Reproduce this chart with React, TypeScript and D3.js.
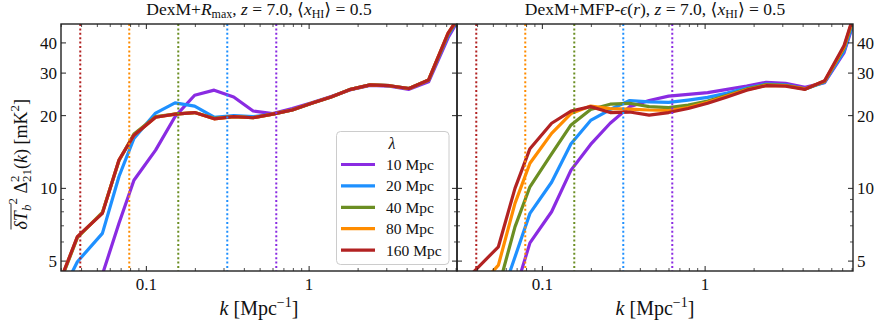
import * as d3 from 'd3'

// k bins [Mpc^-1]
const kBins = [0.030, 0.0377, 0.0537, 0.0679, 0.0839, 0.114, 0.150, 0.198, 0.261, 0.344, 0.453, 0.597, 0.787, 1.036, 1.365, 1.80, 2.37, 3.12, 4.11, 5.42, 7.14, 9.4]

const lambdas = [10, 20, 40, 80, 160]
const seriesLabels = ['10 Mpc', '20 Mpc', '40 Mpc', '80 Mpc', '160 Mpc']
const colors = ['#8a2be2', '#1e90ff', '#6b8e23', '#ff8c00', '#b22222']

// DexM + R_max
const rmax10 = [2.5, 3.3, 4.4, 7.17, 10.8, 14.4, 19.8, 24.3, 25.5, 23.9, 20.9, 20.4, 21.4, 22.6, 24.0, 25.6, 26.7, 26.5, 25.7, 27.6, 42.0, 58]
const rmax20 = [3.65, 4.97, 6.51, 11.2, 16.1, 20.5, 22.6, 21.9, 19.7, 20.0, 19.8, 20.3, 21.1, 22.5, 23.9, 25.7, 26.8, 26.6, 25.9, 28.0, 43.0, 58]
const rmax40 = [4.2, 6.25, 7.95, 13.0, 16.8, 19.8, 20.3, 20.6, 19.5, 19.8, 19.6, 20.3, 21.1, 22.5, 23.9, 25.7, 26.8, 26.6, 25.9, 28.1, 43.5, 58]
const rmax80 = [4.25, 6.3, 7.9, 13.1, 16.6, 19.7, 20.3, 20.6, 19.4, 19.8, 19.6, 20.3, 21.1, 22.5, 23.9, 25.7, 26.8, 26.6, 25.9, 28.1, 43.9, 58]
const rmax160 = [4.25, 6.31, 7.88, 13.1, 16.6, 19.7, 20.3, 20.6, 19.4, 19.8, 19.6, 20.3, 21.1, 22.5, 23.9, 25.7, 26.8, 26.6, 25.9, 28.1, 43.9, 58]

// DexM + MFP-eps(r)
const mfp10 = [1.8, 2.2, 2.8, 3.73, 5.95, 8.0, 11.9, 15.2, 18.6, 21.8, 23.1, 24.1, 24.5, 24.9, 25.7, 26.5, 27.5, 27.2, 26.2, 27.4, 36.5, 65]
const mfp20 = [2.0, 2.5, 3.29, 5.2, 7.88, 10.6, 15.3, 19.1, 21.2, 23.1, 22.8, 22.7, 23.2, 23.8, 24.8, 26.0, 27.0, 26.8, 25.8, 27.5, 37.0, 66]
const mfp40 = [2.3, 2.9, 3.87, 6.93, 10.15, 13.9, 18.3, 21.2, 22.3, 22.5, 21.8, 21.6, 22.1, 23.0, 24.3, 25.8, 26.9, 26.7, 25.8, 27.7, 38.0, 68]
const mfp80 = [2.8, 3.68, 4.81, 8.67, 12.7, 16.9, 20.4, 21.9, 21.4, 21.3, 21.1, 21.0, 21.6, 22.7, 24.1, 25.6, 26.7, 26.6, 25.8, 27.8, 38.5, 70]
const mfp160 = [3.8, 4.5, 5.73, 10.0, 14.6, 18.6, 20.9, 21.8, 20.6, 20.7, 20.1, 20.6, 21.4, 22.5, 23.9, 25.5, 26.6, 26.5, 25.7, 27.9, 39.0, 70]

const yMajor = [5, 10, 20, 30, 40]
const yMinor = [6, 7, 8, 9]
const xMajor = [0.1, 1]
const xMajorLabels = ['0.1', '1']

const W = 877
const H = 323
const top = 24
const bottom = 271
const font = '"Liberation Serif", "DejaVu Serif", serif'
const axisColor = '#222'

const xMinor: number[] = []
;[0.01, 0.1, 1].forEach(d => {
  for (let m = 2; m <= 9; m++) xMinor.push(d * m)
})

function Title({ x, which }: { x: number; which: 'rmax' | 'mfp' }) {
  return (
    <text x={x} y={15} textAnchor="middle" fontSize={17.5} fontFamily={font} fill="#111">
      {which === 'rmax' ? (
        <>
          <tspan>DexM+</tspan>
          <tspan fontStyle="italic">R</tspan>
          <tspan fontSize={12} dy={3}>max</tspan>
          <tspan dy={-3}>, </tspan>
        </>
      ) : (
        <>
          <tspan>DexM+MFP-</tspan>
          <tspan fontStyle="italic">ϵ</tspan>
          <tspan>(</tspan>
          <tspan fontStyle="italic">r</tspan>
          <tspan>), </tspan>
        </>
      )}
      <tspan fontStyle="italic">z</tspan>
      <tspan> = 7.0, ⟨</tspan>
      <tspan fontStyle="italic">x</tspan>
      <tspan fontSize={12} dy={3}>HI</tspan>
      <tspan dy={-3}>⟩ = 0.5</tspan>
    </text>
  )
}

function Panel({ x0, x1, data, which, labelSide, legend }: {
  x0: number; x1: number; data: number[][]; which: 'rmax' | 'mfp'; labelSide: 'left' | 'right'; legend: boolean
}) {
  const x = d3.scaleLog().domain([0.0299, 8.1]).range([x0, x1])
  const y = d3.scaleLog().domain([4.55, 47.9]).range([bottom, top])
  const line = d3.line<number>().x((_, i) => x(kBins[i])).y(d => y(d))
  const clipId = `clip-${which}`
  const [dmin, dmax] = x.domain()
  const xm = xMinor.filter(v => v >= dmin && v <= dmax)
  const cx = (x0 + x1) / 2

  return (
    <g>
      <defs>
        <clipPath id={clipId}>
          <rect x={x0} y={top} width={x1 - x0} height={bottom - top} />
        </clipPath>
      </defs>
      <g clipPath={`url(#${clipId})`}>
        {data.map((s, i) => (
          <path key={i} d={line(s) || ''} fill="none" stroke={colors[i]} strokeWidth={3.2} strokeLinejoin="round" />
        ))}
        {lambdas.map((l, i) => (
          <line key={l} x1={x((2 * Math.PI) / l)} x2={x((2 * Math.PI) / l)} y1={top} y2={bottom}
            stroke={colors[i]} strokeWidth={2} strokeDasharray="2 2.4" />
        ))}
      </g>

      {/* ticks, pointing inward on all sides */}
      {xMajor.map(v => (
        <g key={v}>
          <line x1={x(v)} x2={x(v)} y1={bottom} y2={bottom - 5} stroke={axisColor} strokeWidth={1} />
          <line x1={x(v)} x2={x(v)} y1={top} y2={top + 5} stroke={axisColor} strokeWidth={1} />
        </g>
      ))}
      {xm.map(v => (
        <g key={v}>
          <line x1={x(v)} x2={x(v)} y1={bottom} y2={bottom - 3} stroke={axisColor} strokeWidth={0.8} />
          <line x1={x(v)} x2={x(v)} y1={top} y2={top + 3} stroke={axisColor} strokeWidth={0.8} />
        </g>
      ))}
      {yMajor.map(v => (
        <g key={v}>
          <line x1={x0} x2={x0 + 5} y1={y(v)} y2={y(v)} stroke={axisColor} strokeWidth={1} />
          <line x1={x1} x2={x1 - 5} y1={y(v)} y2={y(v)} stroke={axisColor} strokeWidth={1} />
        </g>
      ))}
      {yMinor.map(v => (
        <g key={v}>
          <line x1={x0} x2={x0 + 3} y1={y(v)} y2={y(v)} stroke={axisColor} strokeWidth={0.8} />
          <line x1={x1} x2={x1 - 3} y1={y(v)} y2={y(v)} stroke={axisColor} strokeWidth={0.8} />
        </g>
      ))}
      <rect x={x0} y={top} width={x1 - x0} height={bottom - top} fill="none" stroke={axisColor} strokeWidth={1.4} />

      {/* tick labels */}
      {xMajor.map((v, i) => (
        <text key={v} x={x(v)} y={290} textAnchor="middle" fontSize={17} fontFamily={font} fill="#111">{xMajorLabels[i]}</text>
      ))}
      {yMajor.map(v => (
        <text key={v} x={labelSide === 'left' ? x0 - 4 : x1 + 4} y={y(v)} dy="0.35em"
          textAnchor={labelSide === 'left' ? 'end' : 'start'} fontSize={17} fontFamily={font} fill="#111">{v}</text>
      ))}

      {/* x label */}
      <text x={cx} y={315} textAnchor="middle" fontSize={20} fontFamily={font} fill="#111">
        <tspan fontStyle="italic">k</tspan>
        <tspan> [Mpc</tspan>
        <tspan fontSize={14} dy={-8}>−1</tspan>
        <tspan dy={8}>]</tspan>
      </text>

      <Title x={cx} which={which} />

      {legend && (
        <g>
          <rect x={336.5} y={131.5} width={112.5} height={133} rx={4} fill="#fff" fillOpacity={0.85} stroke="#ccc" strokeWidth={1} />
          <text x={392} y={149} textAnchor="middle" fontSize={16} fontStyle="italic" fontFamily={font} fill="#111">λ</text>
          {seriesLabels.map((lab, i) => (
            <g key={lab} transform={`translate(0,${164.5 + i * 21.4})`}>
              <line x1={341} x2={375} y1={0} y2={0} stroke={colors[i]} strokeWidth={3.2} />
              <text x={386} y={0} dy="0.35em" fontSize={15.5} fontFamily={font} fill="#111">{lab}</text>
            </g>
          ))}
        </g>
      )}
    </g>
  )
}

function YLabel() {
  // rotated y-axis label with overline on δT_b
  const sx = -82
  return (
    <g transform={`translate(27,${(top + bottom) / 2}) rotate(-90)`}>
      <line x1={sx} x2={sx + 26} y1={-16} y2={-16} stroke="#111" strokeWidth={0.9} />
      <text x={sx} y={0} fontSize={18} fontFamily={font} fill="#111">
        <tspan fontStyle="italic">δT</tspan>
        <tspan fontStyle="italic" fontSize={13} dy={4}>b</tspan>
        <tspan fontSize={13} dy={-14}>2</tspan>
        <tspan dy={10}> Δ</tspan>
        <tspan fontSize={13} dy={-8}>2</tspan>
        <tspan fontSize={13} dx={-6.5} dy={12}>21</tspan>
        <tspan dy={-4}>(</tspan>
        <tspan fontStyle="italic">k</tspan>
        <tspan>) [mK</tspan>
        <tspan fontSize={13} dy={-8}>2</tspan>
        <tspan dy={8}>]</tspan>
      </text>
    </g>
  )
}

export default function App() {
  return (
    <svg width={W} height={H} style={{ position: 'absolute', left: 0, top: 0, background: '#fff' }}>
      <Panel x0={61} x1={457} which="rmax" labelSide="left" legend
        data={[rmax10, rmax20, rmax40, rmax80, rmax160]} />
      <Panel x0={457} x1={853} which="mfp" labelSide="right" legend={false}
        data={[mfp10, mfp20, mfp40, mfp80, mfp160]} />
      <YLabel />
    </svg>
  )
}
